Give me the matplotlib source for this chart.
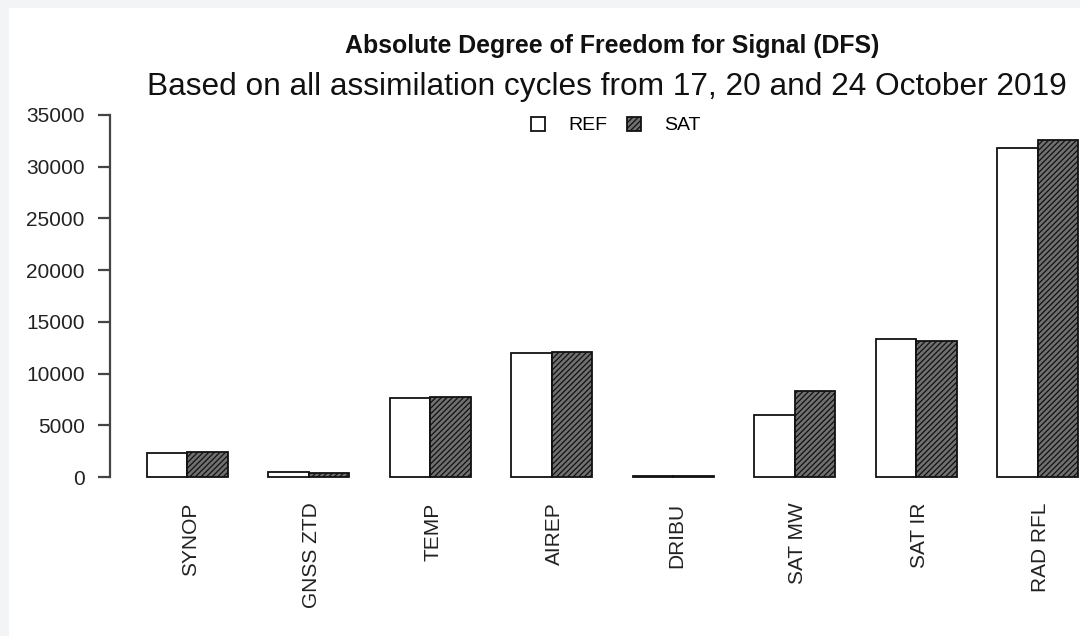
import numpy as np
import matplotlib.pyplot as plt
import matplotlib.transforms as mtransforms
from matplotlib.patches import Patch, Rectangle

plt.rcParams['font.family'] = ['Liberation Sans', 'DejaVu Sans']
plt.rcParams['hatch.linewidth'] = 0.9

categories = ['SYNOP', 'GNSS ZTD', 'TEMP', 'AIREP', 'DRIBU', 'SAT MW', 'SAT IR', 'RAD RFL']
ref = [2350, 450, 7600, 11950, 100, 6000, 13350, 31850]
sat = [2450, 420, 7750, 12050, 100, 8300, 13150, 32600]
yticks = [0, 5000, 10000, 15000, 20000, 25000, 30000, 35000]

W, H = 1080, 636
fig = plt.figure(figsize=(W / 100, H / 100), dpi=100, facecolor='#f3f4f6')
fig.patches.append(Rectangle((9 / W, 0), 1, 1 - 8 / H, transform=fig.transFigure,
                             facecolor='white', edgecolor='none', zorder=-5))

# plot region in pixels: x 109.7 -> 1115.8, y 100.5 -> 491.5
ax = fig.add_axes([109.7 / W, 1 - 491.5 / H, 1006 / W, 391 / H])
ax.set_facecolor('none')
ax.set_zorder(2)

idx = np.arange(len(categories))
x_ref = 1 + 3 * idx
x_sat = 2 + 3 * idx
ax.bar(x_ref, ref, width=1, align='edge', facecolor='white', edgecolor='#111111', linewidth=1.3)
ax.bar(x_sat, sat, width=1, align='edge', facecolor='#707070', edgecolor='#111111',
       hatch='//////', linewidth=1.3)

ax.set_xlim(0.08, 24.92)
ax.set_ylim(-1400, 36400)

for s in ['top', 'right', 'bottom']:
    ax.spines[s].set_visible(False)
ax.spines['left'].set_bounds(0, 35000)
ax.spines['left'].set_color('#444444')
ax.spines['left'].set_linewidth(1.6)

ax.set_yticks(yticks)
ax.set_yticklabels([str(v) for v in yticks])
ax.tick_params(axis='y', length=9, width=1.6, color='#444444', pad=9,
               labelsize=15, labelcolor='#222222')
ax.set_xticks(x_sat)
ax.set_xticklabels(categories, rotation=90, va='top')
ax.tick_params(axis='x', length=0, pad=8, labelsize=15, labelcolor='#222222')
shift = mtransforms.ScaledTranslation(3 / 100, 0, fig.dpi_scale_trans)
for lbl in ax.get_xticklabels():
    lbl.set_transform(lbl.get_transform() + shift)

fig.text(612 / W, 1 - 46 / H, 'Absolute Degree of Freedom for Signal (DFS)',
         ha='center', va='center', fontsize=17.9, fontweight='bold', color='#111111')
fig.text(607 / W, 1 - 87 / H, 'Based on all assimilation cycles from 17, 20 and 24 October 2019',
         ha='center', va='center', fontsize=22.8, color='#111111')

handles = [Patch(facecolor='white', edgecolor='#111111', linewidth=1.3),
           Patch(facecolor='#707070', edgecolor='#111111', hatch='//////', linewidth=1.3)]
fig.legend(handles, ['REF', 'SAT'], loc='center', bbox_to_anchor=(616 / W, 1 - 125.5 / H),
           ncol=2, frameon=False, fontsize=14, handlelength=0.72, handleheight=0.72,
           handletextpad=1.2, columnspacing=1.0, borderaxespad=0, borderpad=0)

fig.savefig('out.png', dpi=100, facecolor=fig.get_facecolor())
